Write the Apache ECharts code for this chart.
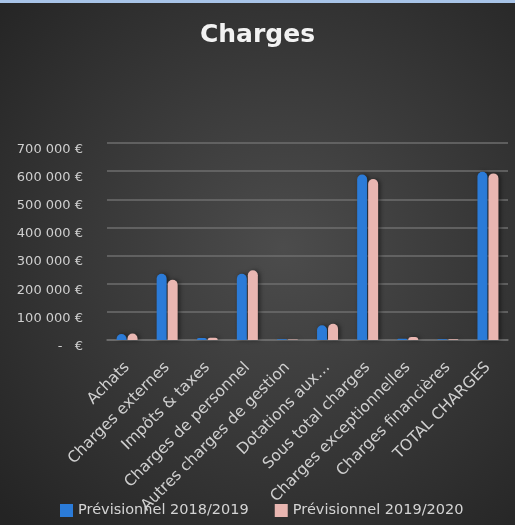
<!DOCTYPE html>
<html>
<head>
<meta charset="utf-8">
<script src="https://cdn.jsdelivr.net/npm/echarts@6/dist/echarts.min.js"></script>
<style>
  html, body { margin: 0; padding: 0; background: #2a2a2a; }
  #chart { width: 515px; height: 522px; border-top: 3px solid #a8c4e8; }
</style>
</head>
<body>
<div id="chart"></div>
<script>
var categories = ['Achats', 'Charges externes', 'Impôts & taxes', 'Charges de personnel',
  'Autres charges de gestion', 'Dotations aux…', 'Sous total charges',
  'Charges exceptionnelles', 'Charges financières', 'TOTAL CHARGES'];
var prev2018 = [21000, 235000, 7000, 235000, 3000, 52000, 588000, 4000, 3000, 598000];
var prev2019 = [23000, 214000, 8000, 248000, 2000, 58000, 572000, 11000, 3000, 592000];
var seriesNames = ['Prévisionnel 2018/2019', 'Prévisionnel 2019/2020'];

var font = 'DejaVu Sans';

function euro(v) {
  if (v === 0) return '-   €';
  return String(v).replace(/\B(?=(\d{3})+(?!\d))/g, ' ') + ' €';
}

var chart = echarts.init(document.getElementById('chart'));
chart.setOption({
  backgroundColor: {
    type: 'radial', x: 0.55, y: 0.47, r: 0.75,
    colorStops: [{ offset: 0, color: '#4c4c4c' }, { offset: 1, color: '#242424' }]
  },
  textStyle: { fontFamily: font },
  title: {
    text: 'Charges',
    left: 'center',
    top: 15,
    textStyle: { color: '#f2f2f2', fontSize: 25, fontWeight: 'bold', fontFamily: font }
  },
  legend: {
    bottom: 2,
    left: 55,
    itemWidth: 13,
    itemHeight: 13,
    itemGap: 26,
    icon: 'rect',
    textStyle: { color: '#d4d4d4', fontSize: 14.5, fontFamily: font }
  },
  grid: { left: 107, right: 7, top: 140, bottom: 185 },
  xAxis: {
    type: 'category',
    data: categories,
    axisLine: { lineStyle: { color: '#6e6e6e', width: 1.5 } },
    axisTick: { show: false },
    axisLabel: { interval: 0, rotate: 45, color: '#cfcfcf', fontSize: 15.5, margin: 25 }
  },
  yAxis: {
    type: 'value',
    min: 0,
    max: 700000,
    interval: 100000,
    axisLine: { show: false },
    axisTick: { show: false },
    splitLine: { lineStyle: { color: '#6e6e6e', width: 1.5 } },
    axisLabel: { color: '#cfcfcf', fontSize: 13, margin: 24, verticalAlign: 'top', formatter: euro }
  },
  series: [
    {
      name: seriesNames[0],
      type: 'bar',
      data: prev2018,
      barWidth: 10,
      barGap: '10%',
      itemStyle: { color: '#2b7bd8', borderRadius: [5, 5, 0, 0],
        shadowColor: 'rgba(0,0,0,0.5)', shadowBlur: 4, shadowOffsetX: 2 }
    },
    {
      name: seriesNames[1],
      type: 'bar',
      data: prev2019,
      barWidth: 10,
      itemStyle: { color: '#e9b6b1', borderRadius: [5, 5, 0, 0],
        shadowColor: 'rgba(0,0,0,0.5)', shadowBlur: 4, shadowOffsetX: 2 }
    }
  ]
});
</script>
</body>
</html>
